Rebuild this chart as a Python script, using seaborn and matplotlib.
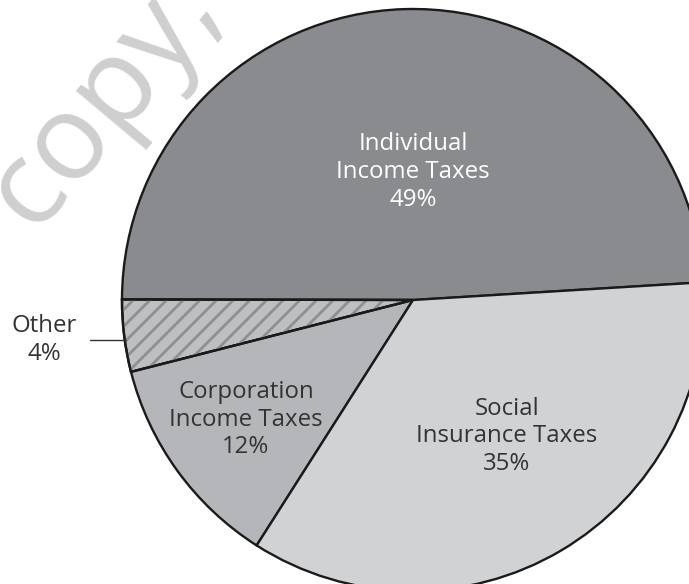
import matplotlib
matplotlib.use("Agg")
import matplotlib.pyplot as plt
from matplotlib.patches import Wedge
import seaborn as sns

# ---- data ----
categories = ["Individual\nIncome Taxes", "Other", "Corporation\nIncome Taxes",
              "Social\nInsurance Taxes"]
shares = [49, 4, 12, 35]
pct_labels = ["49%", "4%", "12%", "35%"]
colors = ["#8a8b8e", "#bebfc1", "#b5b6b9", "#d1d2d4"]

sns.set_theme(style="white")
plt.rcParams["font.family"] = ["Open Sans", "DejaVu Sans"]

W, H, DPI = 689, 584, 100
fig = plt.figure(figsize=(W / DPI, H / DPI), dpi=DPI)
ax = fig.add_axes([0, 0, 1, 1])

wedges, _ = ax.pie(shares, colors=colors, startangle=3.5, counterclock=True,
                   radius=1.0,
                   wedgeprops=dict(edgecolor="#1a1a1a", linewidth=1.7))

# hatch for the "Other" slice
w = wedges[1]
plt.rcParams["hatch.linewidth"] = 2.0
hatch = Wedge(w.center, w.r, w.theta1, w.theta2, facecolor="none",
              edgecolor="#8e8f92", linewidth=0, hatch="//", zorder=w.zorder + 0.1)
ax.add_patch(hatch)
edge = Wedge(w.center, w.r, w.theta1, w.theta2, facecolor="none",
             edgecolor="#1a1a1a", linewidth=1.7, zorder=w.zorder + 0.2)
ax.add_patch(edge)

# pixel-consistent limits: center at (413, 300) px, radius 291 px
R = 291.0
cx, cy = 413.0, 300.0
ax.set_xlim(-cx / R, (W - cx) / R)
ax.set_ylim(-(H - cy) / R, cy / R)
ax.set_aspect("auto")
ax.axis("off")

fs = 17.3
txt = "#333333"
ax.text(0.0, 0.44, categories[0] + "\n" + pct_labels[0], ha="center", va="center",
        color="white", fontsize=fs, linespacing=1.2, zorder=5)
ax.text((507 - cx) / R, -0.468, categories[3] + "\n" + pct_labels[3], ha="center",
        va="center", color=txt, fontsize=fs, linespacing=1.2, zorder=5)
ax.text(-0.574, -0.412, categories[2] + "\n" + pct_labels[2], ha="center", va="center",
        color=txt, fontsize=fs, linespacing=1.2, zorder=5)
ax.text((44 - cx) / R, (cy - 340) / R, categories[1] + "\n" + pct_labels[1],
        ha="center", va="center", color=txt, fontsize=fs, linespacing=1.2, zorder=5)
ax.plot([(90 - cx) / R, (126 - cx) / R], [(cy - 340) / R, (cy - 340) / R],
        color="#333333", linewidth=1.0, zorder=5)

# watermark
fig.text(104 / W, 1 - 100 / H, "copy,", rotation=50, ha="center", va="center",
         rotation_mode="anchor", fontsize=86, color="#cfcfcf", zorder=0)

fig.savefig("out.png", dpi=DPI)
